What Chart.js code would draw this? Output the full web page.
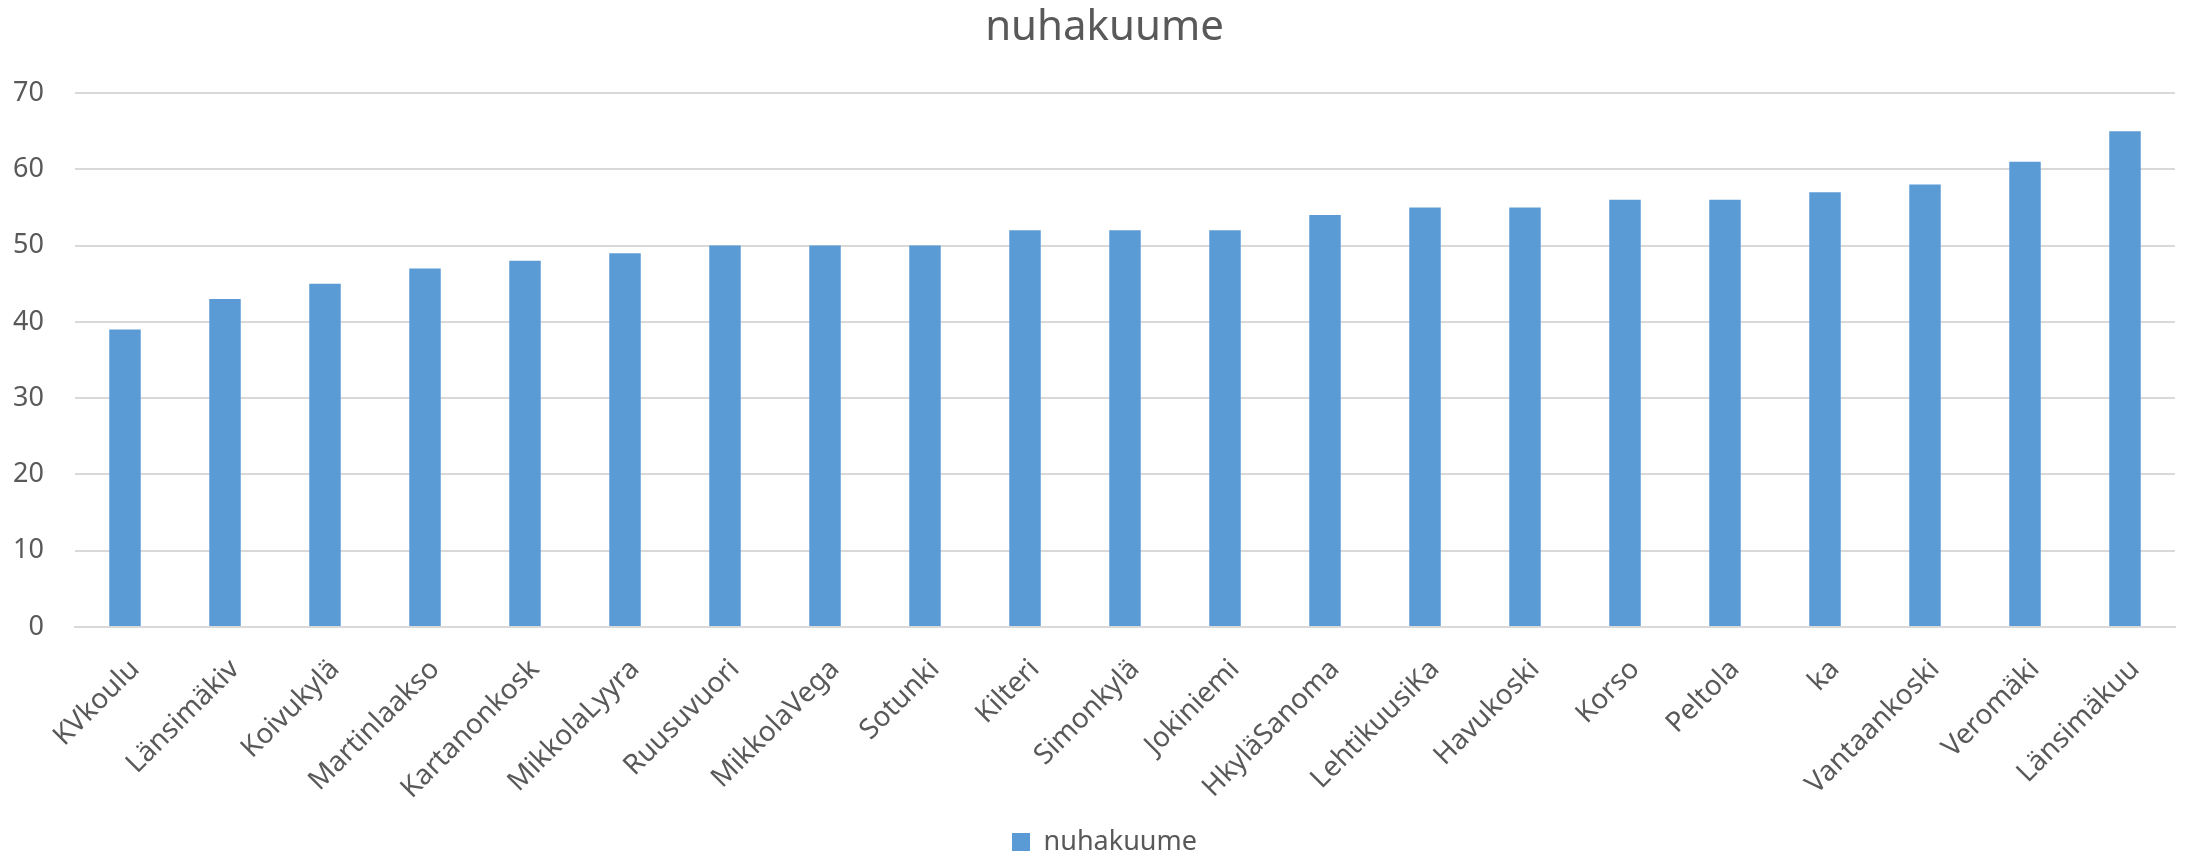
<!DOCTYPE html>
<html>
<head>
<meta charset="utf-8">
<script src="https://cdn.jsdelivr.net/npm/chart.js@4/dist/chart.umd.min.js"></script>
<style>
  html, body { margin: 0; padding: 0; background: #fff; }
  #wrap { width: 2186px; height: 862px; }
</style>
</head>
<body>
<div id="wrap"><canvas id="nuhaChart"></canvas></div>
<script>
const seriesName = 'nuhakuume';
const categories = ['KVkoulu', 'Länsimäkiv', 'Koivukylä', 'Martinlaakso', 'Kartanonkosk', 'MikkolaLyyra',
    'Ruusuvuori', 'MikkolaVega', 'Sotunki', 'Kilteri', 'Simonkylä', 'Jokiniemi', 'HkyläSanoma',
    'LehtikuusiKa', 'Havukoski', 'Korso', 'Peltola', 'ka', 'Vantaankoski', 'Veromäki', 'Länsimäkuu'];
const values = [39, 43, 45, 47, 48, 49, 50, 50, 50, 52, 52, 52, 54, 55, 55, 56, 56, 57, 58, 61, 65];
const yTicks = [0, 10, 20, 30, 40, 50, 60, 70];

const textColor = '#595959';
const gridColor = '#d9d9d9';
const barColor = '#5b9bd5';
const fontFamily = '"Noto Sans", "Open Sans", sans-serif';

// title and legend are centred a bit right of the page centre (as in the original),
// so the layout is padded on the left; give the y labels that space back before drawing
const yLabelsToEdge = {
    id: 'yLabelsToEdge',
    afterLayout(chart) {
        chart.scales.y.left = 0;
    },
};

const ctx = document.getElementById('nuhaChart').getContext('2d');

const config = {
    type: 'bar',
    data: {
        labels: categories,
        datasets: [{
            label: seriesName,
            data: values,
            backgroundColor: barColor,
            borderWidth: 0,
            categoryPercentage: 1,
            barPercentage: 0.315,
        }],
    },
    options: {
        responsive: true,
        maintainAspectRatio: false,
        animation: false,
        layout: {
            padding: { left: 34, right: 11, top: 0, bottom: -3.5 },
        },
        scales: {
            x: {
                grid: { display: false },
                border: { color: gridColor, width: 2 },
                ticks: {
                    color: textColor,
                    font: { family: fontFamily, size: 28 },
                    minRotation: 45,
                    maxRotation: 45,
                    padding: 18,
                    labelOffset: 10,
                    autoSkip: false,
                },
                afterFit: (scale) => { scale.height = 201.5; },
            },
            y: {
                min: 0,
                max: 70,
                afterBuildTicks: (scale) => { scale.ticks = yTicks.map((v) => ({ value: v })); },
                grid: { color: gridColor, lineWidth: 2, drawTicks: false },
                border: { display: false },
                ticks: {
                    color: textColor,
                    font: { family: fontFamily, size: 27 },
                    padding: 31,
                },
                afterFit: (scale) => { scale.width = 41; },
            },
        },
        plugins: {
            title: {
                display: true,
                text: seriesName,
                color: textColor,
                font: { family: fontFamily, size: 42, weight: 'normal' },
                padding: { top: 3, bottom: 39.6 },
            },
            legend: {
                position: 'bottom',
                labels: {
                    color: textColor,
                    font: { family: fontFamily, size: 27 },
                    boxWidth: 18,
                    boxHeight: 18,
                    padding: 0,
                },
            },
            tooltip: { enabled: false },
        },
    },
    plugins: [yLabelsToEdge],
};

const nuhaChart = new Chart(ctx, config);
</script>
</body>
</html>
